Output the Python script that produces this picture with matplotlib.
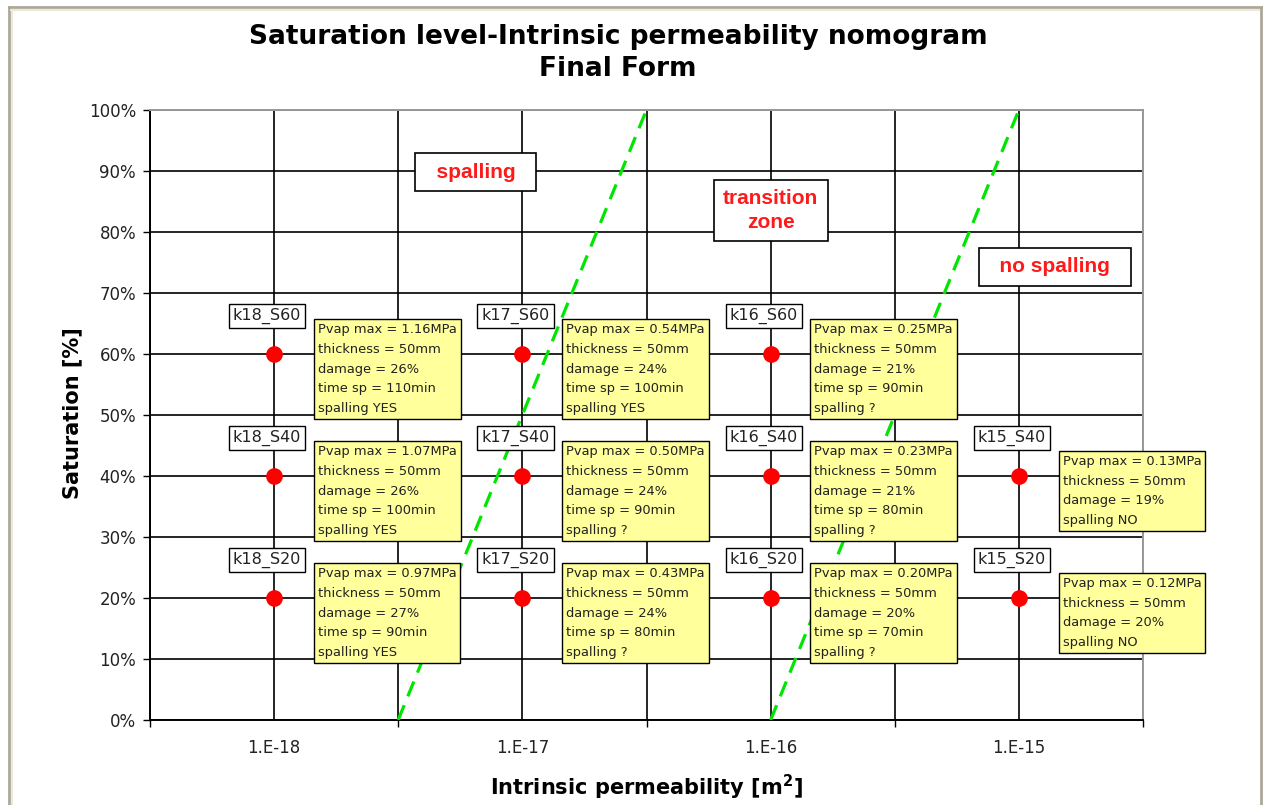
import matplotlib
matplotlib.use("Agg")
import matplotlib.pyplot as plt
from matplotlib.lines import Line2D

# points of the nomogram
names = ["k18_S60", "k18_S40", "k18_S20",
         "k17_S60", "k17_S40", "k17_S20",
         "k16_S60", "k16_S40", "k16_S20",
         "k15_S40", "k15_S20"]
perm = [1e-18, 1e-18, 1e-18, 1e-17, 1e-17, 1e-17, 1e-16, 1e-16, 1e-16, 1e-15, 1e-15]
sat = [60, 40, 20, 60, 40, 20, 60, 40, 20, 40, 20]
pvap = ["1.16", "1.07", "0.97", "0.54", "0.50", "0.43", "0.25", "0.23", "0.20", "0.13", "0.12"]
thickness = [50, 50, 50, 50, 50, 50, 50, 50, 50, 50, 50]
damage = [26, 26, 27, 24, 24, 24, 21, 21, 20, 19, 20]
time_sp = [110, 100, 90, 100, 90, 80, 90, 80, 70, None, None]
spalling = ["YES", "YES", "YES", "YES", "?", "?", "?", "?", "?", "NO", "NO"]

# zone boundaries (dashed green)
bound1_k = [3.16e-18, 3.16e-17]
bound2_k = [1e-16, 1e-15]
bound_s = [0, 100]

zones = ["  spalling  ", "transition\nzone", "  no spalling  "]
zone_k = [6.5e-18, 1e-16, 1.4e-15]
zone_s = [89.8, 83.5, 74.3]

xhalf = [10**-18.5, 10**-17.5, 10**-16.5, 10**-15.5, 10**-14.5]
xlab_pos = [1e-18, 1e-17, 1e-16, 1e-15]
xlab = ["1.E-18", "1.E-17", "1.E-16", "1.E-15"]
yt = list(range(0, 101, 10))

fig = plt.figure(figsize=(12.63, 8.05), dpi=100)
ax = fig.add_axes([150/1263, 1-720/805, 993/1263, 610/805])

ax.set_xscale("log")
ax.set_xlim(10**-18.5, 10**-14.5)
ax.set_ylim(0, 100)

ax.set_xticks(xhalf)
ax.set_xticklabels([""]*len(xhalf))
ax.set_xticks(xlab_pos, minor=True)
ax.set_xticklabels(xlab, minor=True, fontsize=12, color="#222222")
ax.tick_params(axis="x", which="major", direction="out", length=5, width=1, color="black")
ax.tick_params(axis="x", which="minor", length=0, pad=14)
ax.set_yticks(yt)
ax.set_yticklabels(["%d%%" % v for v in yt], fontsize=12, color="#222222")
ax.tick_params(axis="y", direction="out", length=5, width=1, color="black", pad=5)

ax.set_axisbelow(True)
ax.grid(True, which="both", axis="x", color="black", linewidth=1.2)
ax.grid(True, which="major", axis="y", color="black", linewidth=1.2)
for s in ["left", "bottom"]:
    ax.spines[s].set_color("black")
    ax.spines[s].set_linewidth(1.4)
for s in ["top", "right"]:
    ax.spines[s].set_color("#999999")
    ax.spines[s].set_linewidth(1.4)

ax.plot(bound1_k, bound_s, color="#00e600", lw=2.3, dashes=(5, 3), zorder=3)
ax.plot(bound2_k, bound_s, color="#00e600", lw=2.3, dashes=(5, 3), zorder=3)

ax.plot(perm, sat, "o", color="red", markersize=12, markeredgewidth=0, zorder=4)

for i in range(len(names)):
    ax.annotate(names[i], (perm[i], sat[i]), xytext=(-5, 27.5), textcoords="offset points",
                ha="center", va="center", fontsize=11.5, color="#222222", zorder=6,
                bbox=dict(boxstyle="square,pad=0.25", fc="white", ec="black", lw=1))
    lines = ["Pvap max = %sMPa" % pvap[i],
             "thickness = %dmm" % thickness[i],
             "damage = %d%%" % damage[i]]
    if time_sp[i] is not None:
        lines.append("time sp = %dmin" % time_sp[i])
    lines.append("spalling %s" % spalling[i])
    ax.annotate("\n".join(lines), (perm[i], sat[i]), xytext=(31.5, -10.8), textcoords="offset points",
                ha="left", va="center", multialignment="left", fontsize=9.4, linespacing=1.68,
                color="#222222", zorder=6,
                bbox=dict(boxstyle="square,pad=0.3", fc="#ffff9c", ec="black", lw=1))

for z, k, s in zip(zones, zone_k, zone_s):
    ax.text(k, s, z, ha="center", va="center", fontsize=15, fontweight="bold",
            family="Liberation Sans", color="#ff1a1a", linespacing=1.3, zorder=6,
            bbox=dict(boxstyle="square,pad=0.45", fc="white", ec="black", lw=1.2))

ax.set_ylabel("Saturation [%]", fontsize=15, fontweight="bold", va="center")
ax.yaxis.set_label_coords(-0.0785, 0.503)
ax.set_xlabel("Intrinsic permeability [m$^\\mathbf{2}$]", fontsize=15, fontweight="bold", va="center")
ax.xaxis.set_label_coords(0.4995, -0.11)

fig.text(618/1263, 1-53/805, "Saturation level-Intrinsic permeability nomogram\nFinal Form",
         ha="center", va="center", fontsize=19, fontweight="bold", linespacing=1.25)

# window-like frame round the chart
fig.add_artist(Line2D([9/1263, 1261/1263], [1-7/805, 1-7/805], transform=fig.transFigure, color="#aca899", lw=2))
fig.add_artist(Line2D([9/1263, 9/1263], [0, 1-7/805], transform=fig.transFigure, color="#aca899", lw=2))
fig.add_artist(Line2D([1261/1263, 1261/1263], [0, 1-7/805], transform=fig.transFigure, color="#aca899", lw=2))
fig.add_artist(Line2D([11/1263, 1259/1263], [1-10/805, 1-10/805], transform=fig.transFigure, color="#ece9d8", lw=1.5))
fig.add_artist(Line2D([12/1263, 12/1263], [0, 1-10/805], transform=fig.transFigure, color="#ece9d8", lw=1.5))

fig.savefig("out.png", dpi=100)
